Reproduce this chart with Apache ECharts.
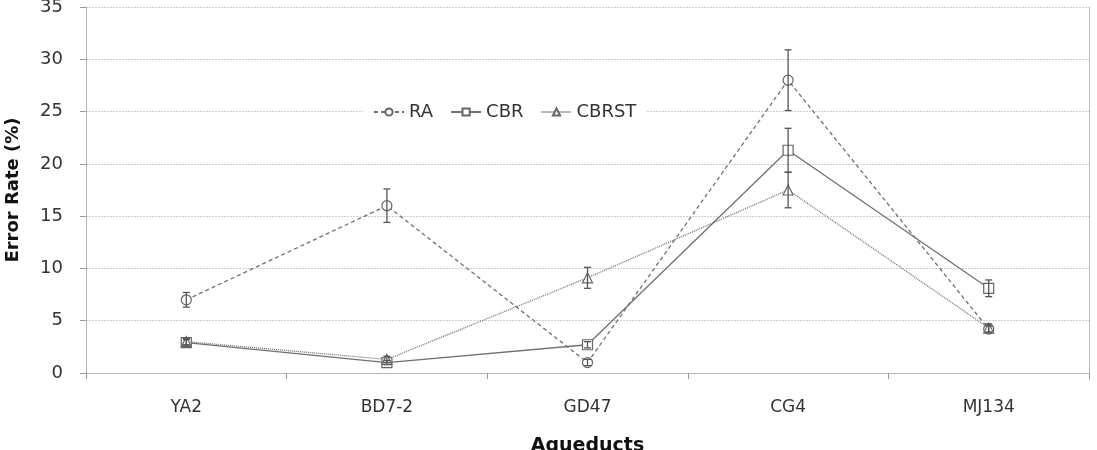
<!DOCTYPE html>
<html lang="en" style="height: 100%">
<head>
  <meta charset="utf-8">
</head>
<body style="height: 100%; margin: 0; background: #fff">
  <div id="container" style="width: 1097px; height: 450px"></div>

  <script type="text/javascript" src="https://cdn.jsdelivr.net/npm/echarts@6/dist/echarts.min.js"></script>

  <script type="text/javascript">
    var categories = ['YA2', 'BD7-2', 'GD47', 'CG4', 'MJ134'];
    var yTicks = [0, 5, 10, 15, 20, 25, 30, 35];

    var raValues = [7.0, 16.0, 1.0, 28.0, 4.2];
    var raErr = [0.7, 1.6, 0.3, 2.9, 0.3];
    var cbrValues = [2.9, 1.0, 2.7, 21.3, 8.1];
    var cbrErr = [0.3, 0.2, 0.3, 2.1, 0.8];
    var cbrstValues = [3.0, 1.3, 9.1, 17.5, 4.3];
    var cbrstErr = [0.3, 0.3, 1.0, 1.7, 0.4];

    var lineColor = '#707070';
    var textColor = '#333';
    var font = 'DejaVu Sans';

    var dom = document.getElementById('container');
    var myChart = echarts.init(dom, null, { renderer: 'canvas' });

    // error bar rows: [category index, low, high]
    function errRows(vals, errs) {
      return vals.map(function (v, i) { return [i, v - errs[i], v + errs[i]]; });
    }

    function renderErr(params, api) {
      var lo = api.coord([api.value(0), api.value(1)]);
      var hi = api.coord([api.value(0), api.value(2)]);
      var cap = 3.5;
      var st = { stroke: '#555', lineWidth: 1.3 };
      return {
        type: 'group',
        children: [
          { type: 'line', shape: { x1: lo[0], y1: lo[1], x2: hi[0], y2: hi[1] }, style: st },
          { type: 'line', shape: { x1: lo[0] - cap, y1: lo[1], x2: lo[0] + cap, y2: lo[1] }, style: st },
          { type: 'line', shape: { x1: hi[0] - cap, y1: hi[1], x2: hi[0] + cap, y2: hi[1] }, style: st }
        ]
      };
    }

    function lineSeries(name, data, type, symbol) {
      return {
        name: name,
        type: 'line',
        data: data,
        symbol: symbol,
        symbolSize: 10,
        showAllSymbol: true,
        itemStyle: { color: '#fff', borderColor: '#666', borderWidth: 1.2 },
        lineStyle: { color: lineColor, width: 1.3, type: type },
        z: 3
      };
    }

    function errSeries(name, vals, errs) {
      return {
        name: name,
        type: 'custom',
        renderItem: renderErr,
        data: errRows(vals, errs),
        encode: { x: 0, y: [1, 2] },
        z: 4,
        silent: true
      };
    }

    var option = {
      backgroundColor: '#fff',
      animation: false,
      grid: { left: 86, right: 8, top: 7, bottom: 77, containLabel: false, outerBoundsMode: 'none' },
      legend: {
        data: ['RA', 'CBR', 'CBRST'],
        top: 99,
        left: 363,
        itemWidth: 30,
        itemHeight: 9,
        itemGap: 17,
        backgroundColor: '#fff',
        padding: [4, 10],
        textStyle: { fontFamily: font, fontSize: 18, color: textColor }
      },
      xAxis: {
        type: 'category',
        data: categories,
        boundaryGap: true,
        name: 'Aqueducts',
        nameLocation: 'middle',
        nameGap: 64,
        nameTextStyle: { fontFamily: font, fontSize: 19, fontWeight: 'bold', color: '#111' },
        axisLine: { lineStyle: { color: '#b5b5b5' } },
        axisTick: { show: true, length: 6, lineStyle: { color: '#999' } },
        axisLabel: { fontFamily: font, fontSize: 17, color: textColor, margin: 26 },
        splitLine: { show: false }
      },
      yAxis: {
        type: 'value',
        min: yTicks[0],
        max: yTicks[yTicks.length - 1],
        interval: 5,
        name: 'Error Rate (%)',
        nameLocation: 'middle',
        nameGap: 64,
        nameTextStyle: { fontFamily: font, fontSize: 18, fontWeight: 'bold', color: '#111' },
        axisLine: { show: true, lineStyle: { color: '#b5b5b5' } },
        axisTick: { show: true, length: 6, lineStyle: { color: '#999' } },
        axisLabel: { fontFamily: font, fontSize: 18, color: textColor, margin: 23 },
        splitLine: { show: true, lineStyle: { color: '#cfcfcf', type: [2, 1] } }
      },
      series: [
        lineSeries('RA', raValues, [4, 3], 'circle'),
        lineSeries('CBR', cbrValues, 'solid', 'rect'),
        lineSeries('CBRST', cbrstValues, [1, 1], 'triangle'),
        errSeries('RA', raValues, raErr),
        errSeries('CBR', cbrValues, cbrErr),
        errSeries('CBRST', cbrstValues, cbrstErr)
      ],
      graphic: [{
        type: 'line',
        shape: { x1: 1089.5, y1: 7, x2: 1089.5, y2: 380 },
        style: { stroke: '#bbb', lineWidth: 1 }
      }]
    };

    myChart.setOption(option);
    window.addEventListener('resize', myChart.resize);
  </script>
</body>
</html>
